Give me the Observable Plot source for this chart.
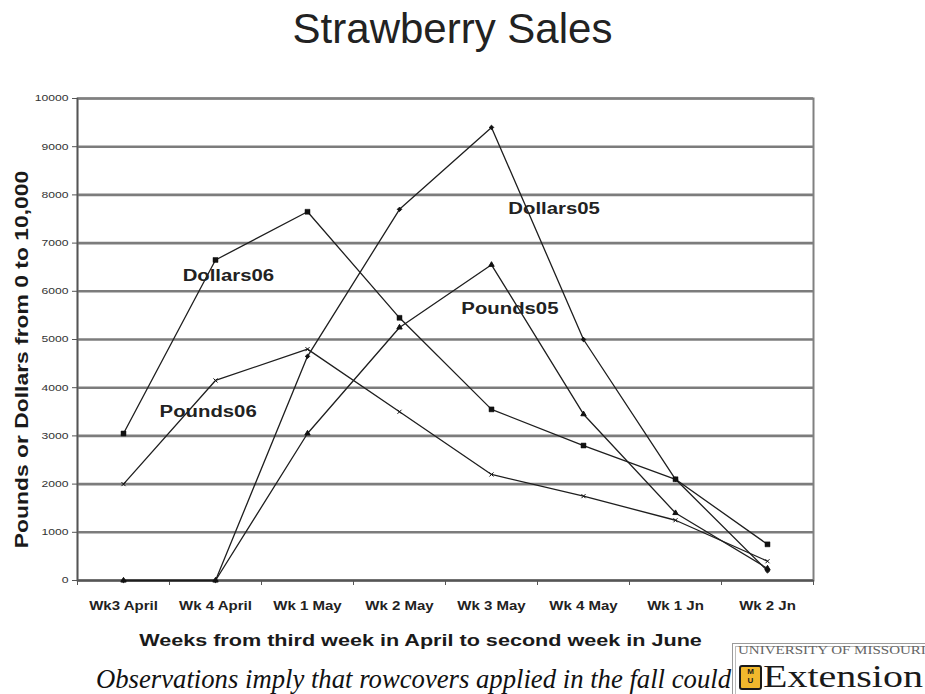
<!DOCTYPE html>
<html>
<head>
<meta charset="utf-8">
<script src="https://cdn.jsdelivr.net/npm/d3@7"></script>
<script src="https://cdn.jsdelivr.net/npm/@observablehq/plot@0.6"></script>
<style>
  body { margin: 0; background: #fff; }
  #wrap { position: relative; width: 925px; height: 694px; overflow: hidden; background: #fff; font-family: "Liberation Sans", Arial, sans-serif; }
  #title { position: absolute; left: 0; top: 4px; width: 905px; text-align: center; font-size: 42px; line-height: 50px; color: #222; margin: 0; font-weight: normal; }
  #chart { position: absolute; left: 0; top: 70px; }
  #caption { position: absolute; left: 96px; top: 664px; font-family: "Liberation Serif", "Times New Roman", serif; font-style: italic; font-size: 26.7px; line-height: 30px; color: #111; white-space: nowrap; }
  #logo { position: absolute; left: 732px; top: 643px; width: 210px; height: 60px; border: 1px solid #9a9a9a; box-shadow: inset 0 0 0 2px #fff, inset 0 0 0 3px #bbb; background: #fff; }
  #logo .uni { position: absolute; left: 5px; top: 0px; font-family: "Liberation Serif", serif; font-size: 12px; line-height: 13px; color: #666; white-space: nowrap; transform: scaleX(1.25); transform-origin: 0 50%; }
  #logo .ext { position: absolute; left: 30px; top: 17px; font-family: "Liberation Serif", serif; font-size: 32px; line-height: 30px; color: #1a1a1a; white-space: nowrap; transform: scaleX(1.25); transform-origin: 0 50%; }
  #logo .mu { position: absolute; left: 6px; top: 21px; width: 19px; height: 21px; background: #f1b82d; border: 2px solid #1a1a1a; border-radius: 3px; font: bold 8px/9px "Liberation Sans", Arial, sans-serif; color: #1a1a1a; text-align: center; }
</style>
</head>
<body>
<div id="wrap">
  <h1 id="title">Strawberry Sales</h1>
  <div id="chart"></div>
  <div id="caption">Observations imply that rowcovers applied in the fall could</div>
  <div id="logo">
    <div class="uni">UNIVERSITY OF MISSOURI</div>
    <div class="mu">M<br>U</div>
    <div class="ext">Extension</div>
  </div>
</div>
<script>
// ---- data ----
const weeks = ["Wk3 April", "Wk 4 April", "Wk 1 May", "Wk 2 May", "Wk 3 May", "Wk 4 May", "Wk 1 Jn", "Wk 2 Jn"];
const dollars06 = [3050, 6650, 7650, 5450, 3550, 2800, 2100, 750];
const pounds06  = [2000, 4150, 4800, 3500, 2200, 1750, 1250, 400];
const dollars05 = [0, 0, 4650, 7700, 9400, 5000, 2100, 200];
const pounds05  = [0, 0, 3050, 5250, 6550, 3450, 1400, 250];
const seriesNames = ["Dollars06", "Pounds06", "Dollars05", "Pounds05"];
// label anchors (week index, value) where the series names sit on the chart
const labelWeek  = [1.14, 0.92, 4.68, 4.2];
const labelValue = [6330, 3500, 7720, 5640];
const yTicks = [0, 1000, 2000, 3000, 4000, 5000, 6000, 7000, 8000, 9000, 10000];
const xTitle = "Weeks from third week in April to second week in June";
const yTitle = "Pounds or Dollars from 0 to 10,000";

const seriesValues = [dollars06, pounds06, dollars05, pounds05];
const rows = seriesNames.flatMap((s, k) => seriesValues[k].map((v, i) => ({series: s, i, week: weeks[i], value: v})));
const weekIdx = weeks.map((d, i) => i);
const boundaries = weeks.map((d, i) => i - 0.5).concat([weeks.length - 0.5]);

const chart = Plot.plot({
  width: 925,
  height: 580,
  marginLeft: 77,
  marginRight: 112,
  marginTop: 28,
  marginBottom: 70,
  style: {fontFamily: "'Liberation Sans', Arial, sans-serif", background: "transparent", overflow: "visible"},
  x: {type: "linear", domain: [boundaries[0], boundaries[boundaries.length - 1]], axis: null},
  y: {domain: [yTicks[0], yTicks[yTicks.length - 1]], axis: null},
  symbol: {domain: seriesNames, range: ["square", "times", "diamond2", "triangle"]},
  marks: [
    Plot.gridY(yTicks, {stroke: "#7c7c7c", strokeWidth: 2.6, strokeOpacity: 1}),
    Plot.frame({stroke: "#808080", strokeWidth: 2}),
    Plot.axisY(yTicks, {tickSize: 5, tickPadding: 4, fontSize: 9, fill: "#333", stroke: "#555", tickFormat: d => String(d), label: null}),
    Plot.axisX(boundaries, {tickSize: 5, stroke: "#555", tickFormat: () => "", label: null}),
    Plot.axisX(weekIdx, {tickSize: 0, tickPadding: 21, fontSize: 12, fontWeight: "bold", fill: "#222", tickFormat: i => weeks[i], label: null}),
    Plot.ruleY([yTicks[0]], {stroke: "#555", strokeWidth: 2}),
    Plot.ruleX([boundaries[0]], {stroke: "#555", strokeWidth: 1.5}),
    Plot.line(rows, {x: "i", y: "value", z: "series", stroke: "#1e1e1e", strokeWidth: 1.3}),
    Plot.dot(rows.filter(d => d.series === "Dollars06"), {x: "i", y: "value", symbol: "series", r: 2.8, fill: "#111", stroke: "#111", strokeWidth: 0.5}),
    Plot.dot(rows.filter(d => d.series !== "Dollars06"), {x: "i", y: "value", symbol: "series", r: 2, fill: "#111", stroke: "#111", strokeWidth: 1}),
    Plot.text(seriesNames, {x: (d, k) => labelWeek[k], y: (d, k) => labelValue[k], text: d => d, fontSize: 16, fontWeight: "bold", fill: "#222"}),
    Plot.text([xTitle], {frameAnchor: "bottom", textAnchor: "middle", lineAnchor: "middle", text: d => d, dx: -25, dy: 60, fontSize: 17, fontWeight: "bold", fill: "#1a1a1a"}),
    Plot.text([yTitle], {frameAnchor: "left", textAnchor: "middle", lineAnchor: "middle", text: d => d, rotate: -90, dx: -55, dy: 20, fontSize: 18, fontWeight: "bold", fill: "#1a1a1a"})
  ]
});
document.getElementById("chart").appendChild(chart);

// widen the text the way the reference's font is set (about 1.27x wider)
function stretch(nodes, k) {
  nodes.forEach(t => {
    const w = t.getComputedTextLength();
    if (w > 0) {
      t.setAttribute("textLength", (w * k).toFixed(1));
      t.setAttribute("lengthAdjust", "spacingAndGlyphs");
    }
  });
}
stretch(chart.querySelectorAll('g[aria-label="y-axis tick label"] text'), 1.35);
stretch(chart.querySelectorAll('g[aria-label="x-axis tick label"] text'), 1.25);
chart.querySelectorAll('g[aria-label="text"]').forEach(g => stretch(g.querySelectorAll("text"), 1.27));
</script>
</body>
</html>
